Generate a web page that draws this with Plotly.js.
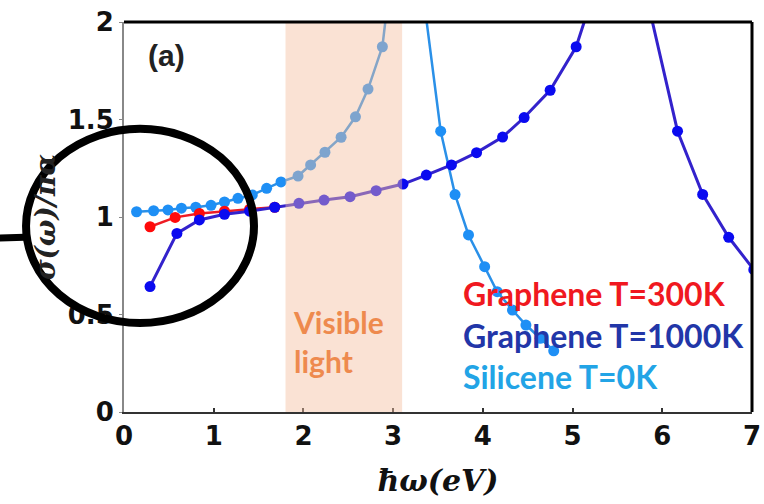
<!DOCTYPE html>
<html>
<head>
<meta charset="utf-8">
<script src="https://cdn.plot.ly/plotly-3.0.1.min.js"></script>
<style>html,body{margin:0;padding:0;background:#fff;}#chart{width:764px;height:504px;}</style>
</head>
<body>
<div id="chart"></div>
<script>
// Silicene T=0K
const siliceneX = [0.14,0.33,0.49,0.64,0.80,0.97,1.12,1.27,1.43,1.59,1.75,1.94,2.08,2.24,2.42,2.58,2.72,2.88,3.04,3.20,3.36,3.53,3.69,3.84,4.02,4.16,4.33,4.48,4.64,4.79];
const siliceneY = [1.027,1.032,1.036,1.045,1.05,1.06,1.077,1.096,1.113,1.147,1.18,1.21,1.267,1.332,1.409,1.514,1.656,1.873,2.5,3.5,2.05,1.44,1.115,0.908,0.745,0.617,0.523,0.446,0.378,0.314];
// Graphene T=1000K
const g1000X = [0.29,0.59,0.84,1.12,1.40,1.68,1.95,2.23,2.52,2.81,3.11,3.37,3.65,3.93,4.22,4.46,4.75,5.04,5.32,5.59,5.86,6.17,6.45,6.74,7.02];
const g1000Y = [0.643,0.916,0.985,1.014,1.03,1.05,1.07,1.087,1.104,1.135,1.169,1.215,1.267,1.33,1.41,1.51,1.65,1.873,2.27,3.0,2.06,1.44,1.116,0.896,0.73];
// Graphene T=300K
const g300X = [0.29,0.57,0.84,1.12,1.40,1.68];
const g300Y = [0.95,0.998,1.018,1.03,1.04,1.05];
// Visible light band (eV)
const visibleBand = [1.8, 3.1];
const xTicks = [0,1,2,3,4,5,6,7];
const yTicks = [0,0.5,1,1.5,2];
const yTickText = ['0','0.5','1','1.5','2'];
const seriesNames = ['Graphene T=300K','Graphene T=1000K','Silicene T=0K'];

const traces = [
  {x: siliceneX, y: siliceneY, name: seriesNames[2], mode: 'lines+markers',
   line: {color: '#2a90e8', width: 2.5}, marker: {color: '#1e8ff5', size: 11}},
  {x: g300X, y: g300Y, name: seriesNames[0], mode: 'lines+markers',
   line: {color: '#ee1c24', width: 2.5}, marker: {color: '#ff0a0a', size: 11}},
  {x: g1000X, y: g1000Y, name: seriesNames[1], mode: 'lines+markers',
   line: {color: '#3322cc', width: 3}, marker: {color: '#0a0af0', size: 11}}
];

const tickFont = {family: 'DejaVu Sans', size: 26, color: '#111', weight: 'bold'};
const layout = {
  width: 764, height: 504,
  margin: {l: 124, r: 12, t: 22, b: 92},
  paper_bgcolor: '#fff', plot_bgcolor: '#fff',
  showlegend: false,
  xaxis: {
    range: [0, 7], tickvals: xTicks, ticktext: xTicks.map(String),
    ticks: 'inside', ticklen: 4, tickcolor: '#333', tickwidth: 2,
    showline: true, linecolor: '#333', linewidth: 2,
    showgrid: false, zeroline: false, tickfont: tickFont,
    title: {text: 'ħω(eV)', standoff: 20,
      font: {family: 'DejaVu Serif', size: 30, color: '#111', style: 'italic', weight: 'bold'}}
  },
  yaxis: {
    range: [0, 2], tickvals: yTicks, ticktext: yTickText,
    ticks: 'outside', ticklen: 3, tickcolor: '#888', tickwidth: 1,
    showline: true, linecolor: '#888', linewidth: 2,
    showgrid: false, zeroline: false, tickfont: tickFont,
    title: {text: 'σ(ω)/πα', standoff: 4,
      font: {family: 'DejaVu Serif', size: 28, color: '#222', style: 'italic', weight: 'bold'}}
  },
  shapes: [
    {type: 'rect', xref: 'x', yref: 'paper', x0: visibleBand[0], x1: visibleBand[1], y0: 0, y1: 1,
     fillcolor: 'rgba(244,191,159,0.45)', line: {width: 0}, layer: 'above'},
    {type: 'line', xref: 'paper', yref: 'paper', x0: 0, x1: 1, y0: 1, y1: 1, line: {color: '#000', width: 3}, layer: 'above'},
    {type: 'line', xref: 'paper', yref: 'paper', x0: 1, x1: 1, y0: 0, y1: 1, line: {color: '#000', width: 3}, layer: 'above'},
    {type: 'circle', xref: 'paper', yref: 'paper', x0: -0.156, x1: 0.207, y0: 0.228, y1: 0.726,
     line: {color: '#000', width: 8}, fillcolor: 'rgba(0,0,0,0)', layer: 'above'},
    {type: 'line', xref: 'paper', yref: 'paper', x0: -0.2, x1: -0.158, y0: 0.446, y1: 0.448,
     line: {color: '#000', width: 7}, layer: 'above'}
  ],
  annotations: [
    {text: '(a)', xref: 'paper', yref: 'paper', x: 0.068, y: 0.913, xanchor: 'center', yanchor: 'middle', showarrow: false,
     font: {family: 'Liberation Sans', size: 30, color: '#222', weight: 'bold'}},
    {text: 'Visible<br>light', xref: 'paper', yref: 'paper', x: 0.266, y: 0.18, xanchor: 'left', yanchor: 'middle', align: 'left', showarrow: false,
     font: {family: 'Lato', size: 30, color: '#ee8a4e', weight: 'bold'}},
    {text: seriesNames[0], xref: 'paper', yref: 'paper', x: 0.536, y: 0.305, xanchor: 'left', yanchor: 'middle', showarrow: false,
     font: {family: 'Lato', size: 32, color: '#f01820', weight: 'bold'}},
    {text: seriesNames[1], xref: 'paper', yref: 'paper', x: 0.536, y: 0.197, xanchor: 'left', yanchor: 'middle', showarrow: false,
     font: {family: 'Lato', size: 32, color: '#2236a8', weight: 'bold'}},
    {text: seriesNames[2], xref: 'paper', yref: 'paper', x: 0.536, y: 0.09, xanchor: 'left', yanchor: 'middle', showarrow: false,
     font: {family: 'Lato', size: 32, color: '#22a4e6', weight: 'bold'}}
  ]
};

Plotly.newPlot('chart', traces, layout, {displayModeBar: false, staticPlot: true});
</script>
</body>
</html>
